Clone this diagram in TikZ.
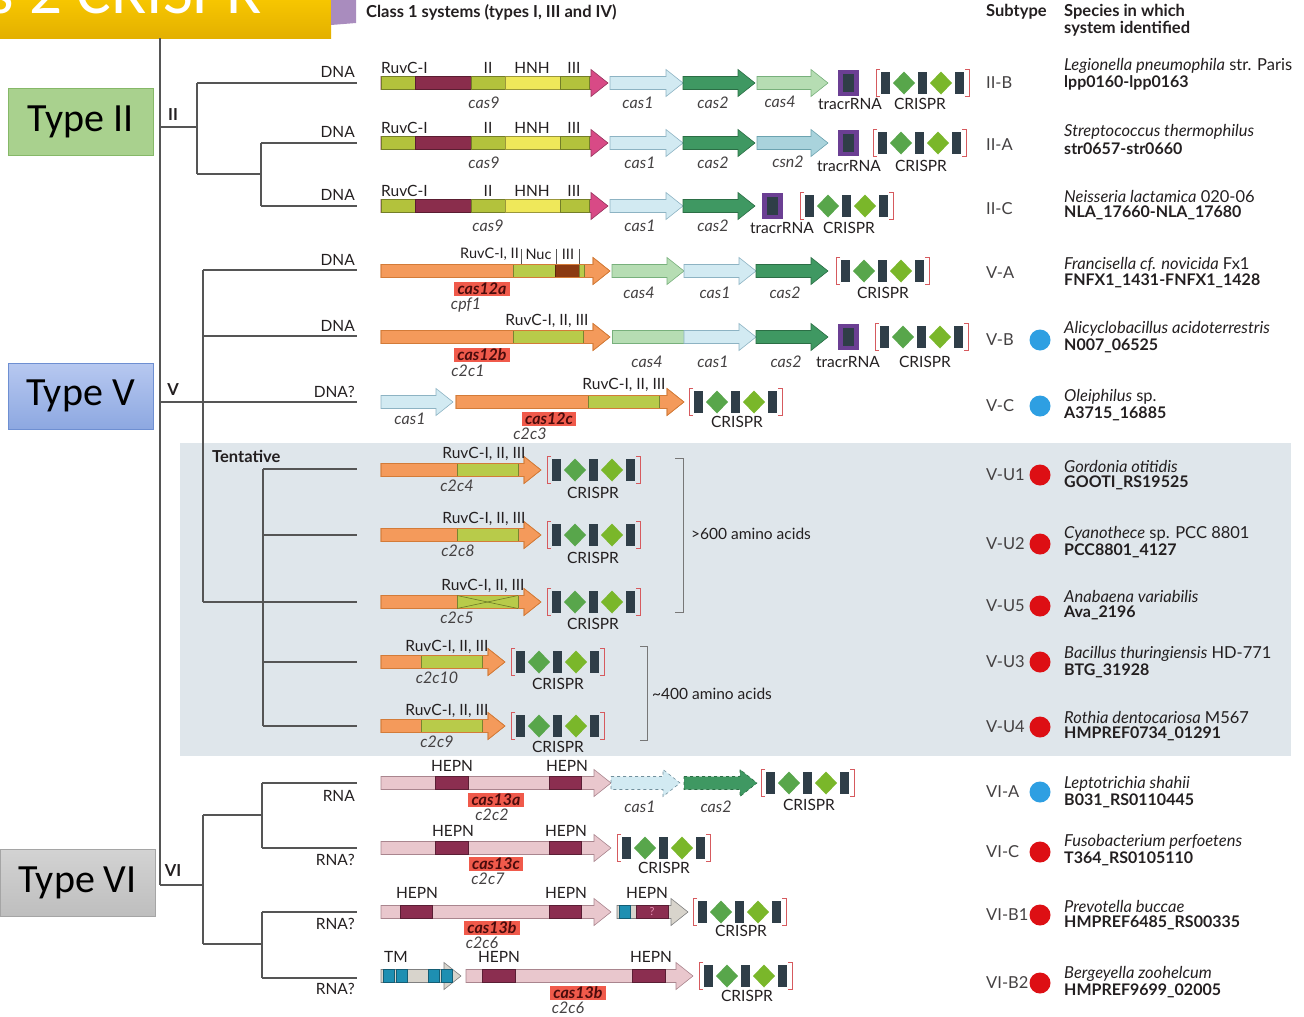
\documentclass[tikz,border=0pt]{standalone}
\usepackage{fontspec}
\setmainfont{Lato}
\newfontfamily\calfont{Carlito}
\definecolor{treegray}{HTML}{555555}
\definecolor{txt}{HTML}{231F20}
\definecolor{colive}{HTML}{B3C23C}
\definecolor{cmaroon}{HTML}{8A2D4C}
\definecolor{hnhy}{HTML}{EFE85A}
\definecolor{cpink}{HTML}{D84A86}
\definecolor{cblue}{HTML}{D2EAF2}
\definecolor{cblued}{HTML}{8DB3C3}
\definecolor{cgreen}{HTML}{3F9862}
\definecolor{cgreend}{HTML}{2B6E45}
\definecolor{clgreen}{HTML}{B6DDB3}
\definecolor{clgreend}{HTML}{78B07C}
\definecolor{csn}{HTML}{A9D3DC}
\definecolor{csnd}{HTML}{6CA3B0}
\definecolor{tpurple}{HTML}{6B3F93}
\definecolor{crep}{HTML}{2F3E48}
\definecolor{spcola}{HTML}{58A64B}
\definecolor{spcolb}{HTML}{7AB72A}
\definecolor{brkred}{HTML}{D65A5E}
\definecolor{corange}{HTML}{F49A5B}
\definecolor{corangedk}{HTML}{D37B38}
\definecolor{cruv}{HTML}{B8CB4A}
\definecolor{cruvd}{HTML}{87982E}
\definecolor{cbrown}{HTML}{8B3A12}
\definecolor{cpinkbar}{HTML}{E9C7CD}
\definecolor{cpinkbard}{HTML}{A9858E}
\definecolor{hepn}{HTML}{8B2E50}
\definecolor{caslred}{HTML}{F05A4B}
\definecolor{casltxt}{HTML}{4A0C0C}
\definecolor{cteal}{HTML}{1E8FB2}
\definecolor{tentbg}{HTML}{DFE6EB}
\definecolor{dotblue}{HTML}{2E9FE2}
\definecolor{dotred}{HTML}{DD0F14}
\definecolor{gold1}{HTML}{F7C600}
\definecolor{gold2}{HTML}{E3B000}
\definecolor{cpurple}{HTML}{A98CBE}
\definecolor{ttwofill}{HTML}{A9D18E}
\definecolor{ttwoborder}{HTML}{86B868}
\definecolor{tfivetop}{HTML}{B7C8F0}
\definecolor{tfivebot}{HTML}{8DA8E1}
\definecolor{tfiveborder}{HTML}{6E8FD2}
\definecolor{tsixtop}{HTML}{D3D3D3}
\definecolor{tsixbot}{HTML}{BEBEBE}
\definecolor{tsixborder}{HTML}{A5A5A5}
\definecolor{smallgray}{HTML}{D8D4CC}
\definecolor{bracketgray}{HTML}{777777}

% gene arrow: [style]{x start}{x tip}{y}
\newcommand{\garrow}[4][]{\draw[line width=0.6pt,#1] (#2,#4-6.5) -- (#3-17,#4-6.5) -- (#3-17,#4-13.5) -- (#3,#4) -- (#3-17,#4+13.5) -- (#3-17,#4+6.5) -- (#2,#4+6.5) -- cycle;}
% bar segment: {colour}{x1}{x2}{y}
\newcommand{\gseg}[4]{\filldraw[fill=#1, draw=#1!65!black, line width=0.4pt] (#2,#4-6.5) rectangle (#3,#4+6.5);}
% CRISPR array: {x left}{y}
\newcommand{\crisprarr}[2]{%
 \draw[brkred, line width=1pt] (#1+4,#2-13.5) -- (#1,#2-13.5) -- (#1,#2+13.5) -- (#1+4,#2+13.5);
 \draw[brkred, line width=1pt] (#1+89,#2-13.5) -- (#1+93,#2-13.5) -- (#1+93,#2+13.5) -- (#1+89,#2+13.5);
 \fill[crep] (#1+5,#2-11) rectangle (#1+14,#2+11);
 \fill[spcola] (#1+28,#2-11.5) -- (#1+39,#2) -- (#1+28,#2+11.5) -- (#1+17,#2) -- cycle;
 \fill[crep] (#1+42,#2-11) rectangle (#1+51,#2+11);
 \fill[spcolb] (#1+65,#2-11.5) -- (#1+76,#2) -- (#1+65,#2+11.5) -- (#1+54,#2) -- cycle;
 \fill[crep] (#1+79,#2-11) rectangle (#1+88,#2+11);}
% tracrRNA box: {x left}{y}
\newcommand{\tracrbox}[2]{\fill[tpurple] (#1,#2-13) rectangle (#1+21,#2+13); \fill[crep] (#1+5,#2-9) rectangle (#1+16,#2+9);}
% cas9 gene: {y}
\newcommand{\casnine}[1]{%
 \garrow[fill=cpink, draw=cpink!70!black]{381}{608}{#1}
 \gseg{colive}{381}{415}{#1}\gseg{cmaroon}{415}{471}{#1}\gseg{colive}{471}{505}{#1}\gseg{hnhy}{505}{560}{#1}\gseg{colive}{560}{589}{#1}}
% cas12-like gene: {green start}{green end}{tip}{y}
\newcommand{\casorange}[4]{%
 \garrow[fill=corange, draw=corangedk]{381}{#3}{#4}
 \gseg{cruv}{#1}{#2}{#4}
 \garrow[draw=corangedk]{381}{#3}{#4}}
% species column: {name}{y subtype}{subtype}{y species}{line 1}{line 2}
\newcommand{\specrow}[6]{%
 \node[subl] (#1s) at (986,#2) {#3};
 \node[spit] (#1i) at (1064,#4) {#5};
 \node[spbd] (#1b) at (1064,#4+17) {#6};}

\begin{document}
\begin{tikzpicture}[x=1pt,y=-1pt,
 tree/.style={draw=treegray, line width=1.3pt},
 tlbl/.style={font=\fontsize{15.5}{17}\selectfont, text=txt, inner sep=0pt},
 tital/.style={font=\itshape\fontsize{16}{17}\selectfont, text=txt!85, inner sep=0pt},
 tbold/.style={font=\bfseries\fontsize{16.5}{18}\selectfont, text=txt, inner sep=0pt},
 subl/.style={font=\fontsize{16.5}{18}\selectfont, text=txt!85, inner sep=0pt, anchor=west},
 spit/.style={font=\fontsize{16.5}{18}\selectfont, text=txt, inner sep=0pt, anchor=west},
 spbd/.style={font=\bfseries\fontsize{16}{18}\selectfont, text=txt, inner sep=0pt, anchor=west},
 brl/.style={tlbl, anchor=east},
 casl/.style={fill=caslred, text=casltxt, font=\bfseries\itshape\fontsize{16}{17}\selectfont, inner xsep=3.5pt, inner ysep=1pt},
 typebox/.style={font=\calfont\fontsize{40}{44}\selectfont, text=black, inner sep=0pt},
 dotn/.style={circle, minimum size=21pt, inner sep=0pt},
]
\useasboundingbox (0,0) rectangle (1304,1017);

% ---------- header ----------
\begin{scope}
 \clip (0,0) rectangle (331,38);
 \fill[top color=gold1, bottom color=gold2] (0,0) rectangle (331,38);
 \node[anchor=base east, text=white, font=\calfont\fontsize{65}{70}\selectfont, inner sep=0pt] (title) at (262,13) {s 2 CRISPR};
\end{scope}
\fill[cpurple] (331,0) -- (356,0) -- (356,23) -- (331,25) -- cycle;
\node[tbold, anchor=west] (class1) at (366,12) {Class 1 systems (types I, III and IV)};
\node[tbold, anchor=west] (hsub) at (986,12) {Subtype};
\node[tbold, anchor=west] (hspa) at (1064,12) {Species in which};
\node[tbold, anchor=west] (hspb) at (1064,29) {system identified};

% ---------- type boxes ----------
\node[typebox, draw=ttwoborder, fill=ttwofill, minimum width=145pt, minimum height=67pt, line width=1pt] (typeII) at (80.5,121.5) {Type II};
\node[typebox, draw=tfiveborder, top color=tfivetop, bottom color=tfivebot, minimum width=145pt, minimum height=66pt, line width=1pt] (typeV) at (80.5,396) {Type V};
\node[typebox, draw=tsixborder, top color=tsixtop, bottom color=tsixbot, minimum width=155pt, minimum height=67pt, line width=1pt] (typeVI) at (77.5,882.5) {Type VI};

% ---------- tentative background ----------
\fill[tentbg] (180,443) rectangle (1291,756);

% ---------- tree ----------
\coordinate (root) at (160,38);
\coordinate (rootend) at (160,885);
\draw[tree] (root) -- (rootend);
% type II
\draw[tree] (160,127) -- (197,127);
\draw[tree] (197,83) -- (197,174);
\draw[tree] (197,83) -- (357,83);
\draw[tree] (197,174) -- (261,174);
\draw[tree] (261,143) -- (261,206);
\draw[tree] (261,143) -- (357,143);
\draw[tree] (261,206) -- (357,206);
\node[tbold] (lII) at (173,115) {II};
% type V
\draw[tree] (160,402) -- (357,402);
\draw[tree] (203,270) -- (203,602);
\draw[tree] (203,270) -- (357,270);
\draw[tree] (203,336) -- (357,336);
\draw[tree] (203,602) -- (357,602);
\draw[tree] (263,469) -- (263,726);
\draw[tree] (263,469) -- (357,469);
\draw[tree] (263,535) -- (357,535);
\draw[tree] (263,662) -- (357,662);
\draw[tree] (263,726) -- (357,726);
\node[tbold] (lV) at (173,390) {V};
\node[tbold, anchor=west] (tent) at (212,456) {Tentative};
% type VI
\draw[tree] (160,885) -- (203,885);
\draw[tree] (203,815) -- (203,944);
\draw[tree] (203,815) -- (262,815);
\draw[tree] (262,783) -- (262,848);
\draw[tree] (262,783) -- (357,783);
\draw[tree] (262,848) -- (357,848);
\draw[tree] (203,944) -- (262,944);
\draw[tree] (262,912) -- (262,978);
\draw[tree] (262,912) -- (357,912);
\draw[tree] (262,978) -- (357,978);
\node[tbold] (lVI) at (173,871) {VI};

% branch labels
\node[brl] (b1) at (355,72) {DNA};
\node[brl] (b2) at (355,132) {DNA};
\node[brl] (b3) at (355,195) {DNA};
\node[brl] (b4) at (355,260) {DNA};
\node[brl] (b5) at (355,326) {DNA};
\node[brl] (b6) at (355,392) {DNA?};
\node[brl] (b12) at (355,796) {RNA};
\node[brl] (b13) at (355,860) {RNA?};
\node[brl] (b14) at (355,924) {RNA?};
\node[brl] (b15) at (355,989) {RNA?};

% ---------- row 1 : II-B ----------
\casnine{83}
\node[tlbl, anchor=west] (r1ruv) at (381,68) {RuvC-I};
\node[tlbl] (r1ii) at (488,68) {II};
\node[tlbl] (r1hnh) at (532,68) {HNH};
\node[tlbl] (r1iii) at (574,68) {III};
\node[tital] (r1c9) at (484,103) {cas9};
\garrow[fill=cblue, draw=cblued]{610}{683}{83}
\garrow[fill=cgreen, draw=cgreend]{683}{755}{83}
\garrow[fill=clgreen, draw=clgreend]{757}{828}{83}
\tracrbox{838}{83}
\crisprarr{876}{83}
\node[tital] (r1c1) at (638,103) {cas1};
\node[tital] (r1c2) at (713,103) {cas2};
\node[tital] (r1c4) at (780,102) {cas4};
\node[tlbl] (r1tr) at (850,104) {tracrRNA};
\node[tlbl] (r1cr) at (920,104) {CRISPR};

% ---------- row 2 : II-A ----------
\casnine{143}
\node[tlbl, anchor=west] (r2ruv) at (381,128) {RuvC-I};
\node[tlbl] (r2ii) at (488,128) {II};
\node[tlbl] (r2hnh) at (532,128) {HNH};
\node[tlbl] (r2iii) at (574,128) {III};
\node[tital] (r2c9) at (484,163) {cas9};
\garrow[fill=cblue, draw=cblued]{610}{683}{143}
\garrow[fill=cgreen, draw=cgreend]{683}{755}{143}
\garrow[fill=csn, draw=csnd]{757}{828}{143}
\tracrbox{838}{143}
\crisprarr{873}{143}
\node[tital] (r2c1) at (640,163) {cas1};
\node[tital] (r2c2) at (713,163) {cas2};
\node[tital] (r2csn) at (788,162) {csn2};
\node[tlbl] (r2tr) at (849,166) {tracrRNA};
\node[tlbl] (r2cr) at (921,166) {CRISPR};

% ---------- row 3 : II-C ----------
\casnine{206}
\node[tlbl, anchor=west] (r3ruv) at (381,191) {RuvC-I};
\node[tlbl] (r3ii) at (488,191) {II};
\node[tlbl] (r3hnh) at (532,191) {HNH};
\node[tlbl] (r3iii) at (574,191) {III};
\node[tital] (r3c9) at (488,226) {cas9};
\garrow[fill=cblue, draw=cblued]{610}{683}{206}
\garrow[fill=cgreen, draw=cgreend]{683}{755}{206}
\tracrbox{762}{206}
\crisprarr{800}{206}
\node[tital] (r3c1) at (640,226) {cas1};
\node[tital] (r3c2) at (713,226) {cas2};
\node[tlbl] (r3tr) at (782,228) {tracrRNA};
\node[tlbl] (r3cr) at (849,228) {CRISPR};

% ---------- row 4 : V-A ----------
\garrow[fill=corange, draw=corangedk]{381}{610}{271}
\gseg{cruv}{513}{555}{271}
\gseg{cbrown}{555}{579}{271}
\gseg{cruv}{579}{584}{271}
\garrow[draw=corangedk]{381}{610}{271}
\draw[treegray, line width=0.6pt] (521,249) -- (521,264);
\draw[treegray, line width=0.6pt] (556,249) -- (556,264);
\draw[treegray, line width=0.6pt] (579,249) -- (579,264);
\node[tlbl, anchor=east, font=\fontsize{14.5}{16}\selectfont] (r4ruv) at (519,254) {RuvC-I, II};
\node[tlbl, font=\fontsize{14.5}{16}\selectfont] (r4nuc) at (538.5,254) {Nuc};
\node[tlbl, font=\fontsize{14.5}{16}\selectfont] (r4iii) at (568,254) {III};
\node[casl] (r4cas) at (482,289) {cas12a};
\node[tital] (r4cpf) at (466,305) {cpf1};
\garrow[fill=clgreen, draw=clgreend]{612}{684}{271}
\garrow[fill=cblue, draw=cblued]{684}{756}{271}
\garrow[fill=cgreen, draw=cgreend]{756}{828}{271}
\crisprarr{836}{271}
\node[tital] (r4c4) at (639,293) {cas4};
\node[tital] (r4c1) at (715,293) {cas1};
\node[tital] (r4c2) at (785,293) {cas2};
\node[tlbl] (r4cr) at (883,293) {CRISPR};

% ---------- row 5 : V-B ----------
\casorange{513}{583}{610}{337}
\node[tlbl] (r5ruv) at (547,321) {RuvC-I, II, III};
\node[casl] (r5cas) at (482,355) {cas12b};
\node[tital] (r5c2c) at (468,371) {c2c1};
\filldraw[fill=clgreen, draw=clgreend, line width=0.6pt] (612,330.5) rectangle (684,343.5);
\garrow[fill=cblue, draw=cblued]{684}{756}{337}
\garrow[fill=cgreen, draw=cgreend]{756}{828}{337}
\tracrbox{838}{337}
\crisprarr{875}{337}
\node[tital] (r5c4) at (647,362) {cas4};
\node[tital] (r5c1) at (713,362) {cas1};
\node[tital] (r5c2) at (786,362) {cas2};
\node[tlbl] (r5tr) at (848,362) {tracrRNA};
\node[tlbl] (r5cr) at (925,362) {CRISPR};

% ---------- row 6 : V-C ----------
\garrow[fill=cblue, draw=cblued]{381}{453}{402}
\garrow[fill=corange, draw=corangedk]{456}{684}{402}
\gseg{cruv}{588}{659}{402}
\garrow[draw=corangedk]{456}{684}{402}
\node[tlbl] (r6ruv) at (624,385) {RuvC-I, II, III};
\node[tital] (r6c1) at (410,419) {cas1};
\node[casl] (r6cas) at (549,419) {cas12c};
\node[tital] (r6c2c) at (530,434) {c2c3};
\crisprarr{689}{402}
\node[tlbl] (r6cr) at (737,422) {CRISPR};

% ---------- tentative rows ----------
\casorange{457}{518}{541}{470}
\node[tlbl] (r7ruv) at (484,454) {RuvC-I, II, III};
\node[tital] (r7c) at (457,486) {c2c4};
\crisprarr{547}{470}
\node[tlbl] (r7cr) at (593,493) {CRISPR};

\casorange{457}{518}{541}{535}
\node[tlbl] (r8ruv) at (484,519) {RuvC-I, II, III};
\node[tital] (r8c) at (458,551) {c2c8};
\crisprarr{547}{535}
\node[tlbl] (r8cr) at (593,558) {CRISPR};

\casorange{457}{518}{541}{602}
\draw[cruvd!80!black, line width=0.6pt] (457,595.5) -- (518,608.5);
\draw[cruvd!80!black, line width=0.6pt] (457,608.5) -- (518,595.5);
\node[tlbl] (r9ruv) at (483,586) {RuvC-I, II, III};
\node[tital] (r9c) at (457,618) {c2c5};
\crisprarr{547}{602}
\node[tlbl] (r9cr) at (593,624) {CRISPR};

\casorange{421}{482}{505}{662}
\node[tlbl] (r10ruv) at (447,647) {RuvC-I, II, III};
\node[tital] (r10c) at (437,678) {c2c10};
\crisprarr{511}{662}
\node[tlbl] (r10cr) at (558,684) {CRISPR};

\casorange{421}{482}{505}{726}
\node[tlbl] (r11ruv) at (447,711) {RuvC-I, II, III};
\node[tital] (r11c) at (437,742) {c2c9};
\crisprarr{511}{726}
\node[tlbl] (r11cr) at (558,747) {CRISPR};

% amino-acid brackets
\coordinate (bka) at (675,458);
\coordinate (bkb) at (675,612);
\draw[bracketgray, line width=0.9pt] (bka) -- (683,458) -- (683,612) -- (bkb);
\node[tlbl, anchor=west] (aa600) at (691,534) {>600 amino acids};
\coordinate (bkc) at (640,646);
\coordinate (bkd) at (640,740);
\draw[bracketgray, line width=0.9pt] (bkc) -- (647,646) -- (647,740) -- (bkd);
\node[tlbl, anchor=west] (aa400) at (652,694) {\textasciitilde400 amino acids};

% ---------- row 12 : VI-A ----------
\garrow[fill=cpinkbar, draw=cpinkbard]{381}{611}{783}
\gseg{hepn}{435}{468}{783}
\gseg{hepn}{549}{581}{783}
\node[tlbl] (r12h1) at (452,766) {HEPN};
\node[tlbl] (r12h2) at (567,766) {HEPN};
\node[casl] (r12cas) at (496,800) {cas13a};
\node[tital] (r12c2c) at (492,815) {c2c2};
\garrow[fill=cblue, draw=cblued!80!black, dashed]{611}{680}{783}
\garrow[fill=cgreen, draw=cgreend, dashed]{684}{757}{783}
\crisprarr{761}{783}
\node[tital] (r12c1) at (640,807) {cas1};
\node[tital] (r12c2) at (716,807) {cas2};
\node[tlbl] (r12cr) at (809,805) {CRISPR};

% ---------- row 13 : VI-C ----------
\garrow[fill=cpinkbar, draw=cpinkbard]{381}{611}{848}
\gseg{hepn}{435}{468}{848}
\gseg{hepn}{549}{581}{848}
\node[tlbl] (r13h1) at (453,831) {HEPN};
\node[tlbl] (r13h2) at (566,831) {HEPN};
\node[casl] (r13cas) at (496,864) {cas13c};
\node[tital] (r13c2c) at (488,879) {c2c7};
\crisprarr{617}{848}
\node[tlbl] (r13cr) at (664,868) {CRISPR};

% ---------- row 14 : VI-B1 ----------
\garrow[fill=cpinkbar, draw=cpinkbard]{381}{611}{912}
\gseg{hepn}{400}{432}{912}
\gseg{hepn}{549}{581}{912}
\node[tlbl] (r14h1) at (417,893) {HEPN};
\node[tlbl] (r14h2) at (566,893) {HEPN};
\node[casl] (r14cas) at (492,928) {cas13b};
\node[tital] (r14c2c) at (482,943) {c2c6};
\garrow[fill=smallgray, draw=gray]{617}{688}{912}
\gseg{cteal}{619}{630}{912}
\gseg{hepn}{636}{668}{912}
\node[font=\fontsize{11}{12}\selectfont, text=cpink!60, inner sep=0pt] (r14q) at (652,912) {?};
\node[tlbl] (r14h3) at (647,893) {HEPN};
\crisprarr{693}{912}
\node[tlbl] (r14cr) at (741,931) {CRISPR};

% ---------- row 15 : VI-B2 ----------
\garrow[fill=smallgray, draw=gray]{381}{461}{976}
\gseg{cteal}{383}{394}{976}
\gseg{cteal}{396}{407}{976}
\gseg{cteal}{428}{439}{976}
\gseg{cteal}{441}{452}{976}
\node[tlbl] (r15tm) at (396,957) {TM};
\garrow[fill=cpinkbar, draw=cpinkbard]{466}{693}{976}
\gseg{hepn}{482}{515}{976}
\gseg{hepn}{632}{665}{976}
\node[tlbl] (r15h1) at (499,957) {HEPN};
\node[tlbl] (r15h2) at (651,957) {HEPN};
\node[casl] (r15cas) at (578,993) {cas13b};
\node[tital] (r15c2c) at (568,1008) {c2c6};
\crisprarr{699}{976}
\node[tlbl] (r15cr) at (747,996) {CRISPR};

% ---------- subtype / species column ----------
\specrow{s1}{83}{II-B}{66}{\textit{Legionella pneumophila} str. Paris}{lpp0160-lpp0163}
\specrow{s2}{145}{II-A}{132}{\textit{Streptococcus thermophilus}}{str0657-str0660}
\specrow{s3}{209}{II-C}{196}{\textit{Neisseria lactamica} 020-06}{NLA\_17660-NLA\_17680}
\specrow{s4}{273}{V-A}{264}{\textit{Francisella cf. novicida} Fx1}{FNFX1\_1431-FNFX1\_1428}
\specrow{s5}{340}{V-B}{329}{\textit{Alicyclobacillus acidoterrestris}}{N007\_06525}
\specrow{s6}{406}{V-C}{397}{\textit{Oleiphilus} sp.}{A3715\_16885}
\specrow{s7}{475}{V-U1}{466}{\textit{Gordonia otitidis}}{GOOTI\_RS19525}
\specrow{s8}{544}{V-U2}{534}{\textit{Cyanothece} sp. PCC 8801}{PCC8801\_4127}
\specrow{s9}{606}{V-U5}{596}{\textit{Anabaena variabilis}}{Ava\_2196}
\specrow{s10}{662}{V-U3}{654}{\textit{Bacillus thuringiensis} HD-771}{BTG\_31928}
\specrow{s11}{727}{V-U4}{717}{\textit{Rothia dentocariosa} M567}{HMPREF0734\_01291}
\specrow{s12}{792}{VI-A}{784}{\textit{Leptotrichia shahii}}{B031\_RS0110445}
\specrow{s13}{852}{VI-C}{842}{\textit{Fusobacterium perfoetens}}{T364\_RS0105110}
\specrow{s14}{915}{VI-B1}{906}{\textit{Prevotella buccae}}{HMPREF6485\_RS00335}
\specrow{s15}{983}{VI-B2}{974}{\textit{Bergeyella zoohelcum}}{HMPREF9699\_02005}

\node[dotn, fill=dotblue] (d5) at (1040,340) {};
\node[dotn, fill=dotblue] (d6) at (1040,406) {};
\node[dotn, fill=dotred] (d7) at (1040,475) {};
\node[dotn, fill=dotred] (d8) at (1040,544) {};
\node[dotn, fill=dotred] (d9) at (1040,606) {};
\node[dotn, fill=dotred] (d10) at (1040,662) {};
\node[dotn, fill=dotred] (d11) at (1040,727) {};
\node[dotn, fill=dotblue] (d12) at (1040,792) {};
\node[dotn, fill=dotred] (d13) at (1040,852) {};
\node[dotn, fill=dotred] (d14) at (1040,915) {};
\node[dotn, fill=dotred] (d15) at (1040,983) {};
\end{tikzpicture}
\end{document}
